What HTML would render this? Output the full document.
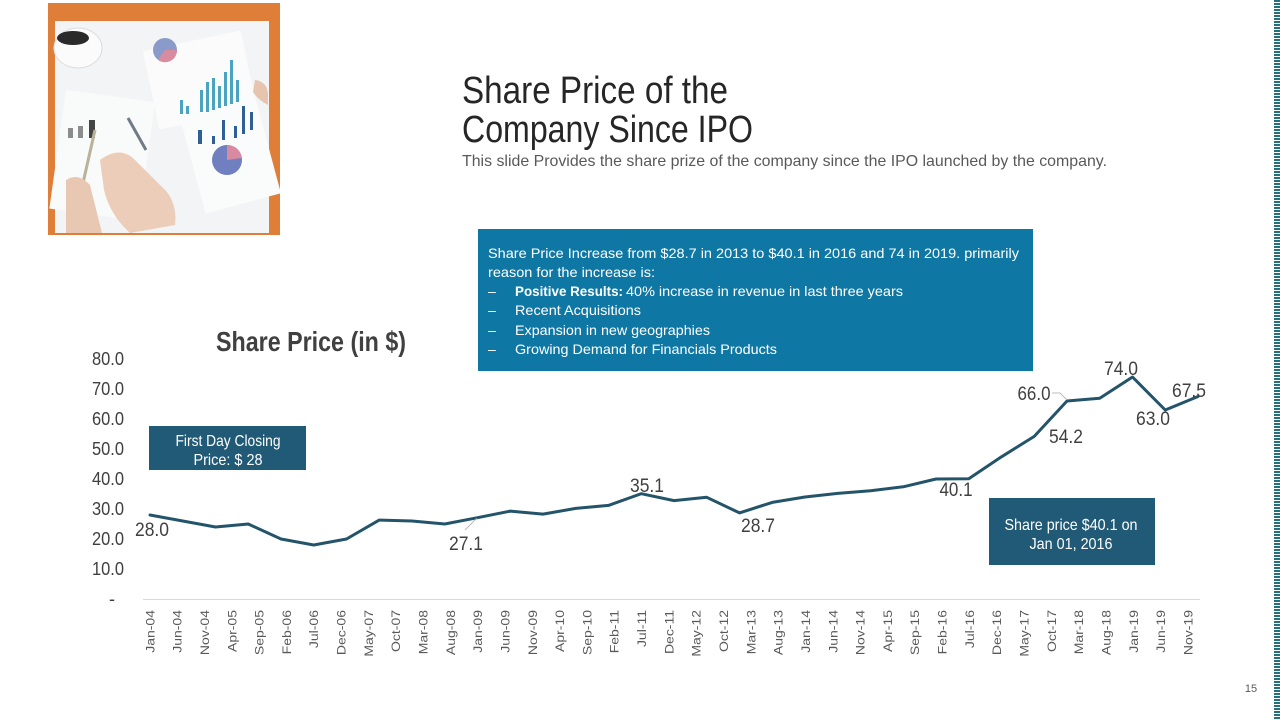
<!DOCTYPE html>
<html>
<head>
<meta charset="utf-8">
<style>
  html,body{margin:0;padding:0;background:#fff;}
  body{width:1280px;height:720px;overflow:hidden;}
  svg{display:block;}
  text{font-family:"Liberation Sans", Arial, sans-serif;}
</style>
</head>
<body>
<svg width="1280" height="720" viewBox="0 0 1280 720" xmlns="http://www.w3.org/2000/svg">
  <defs>
    <pattern id="dots" width="6" height="3" patternUnits="userSpaceOnUse">
      <rect x="0" y="0" width="6" height="2" fill="#23707f"/>
    </pattern>
  </defs>
  <rect width="1280" height="720" fill="#ffffff"/>

  <!-- right dotted stripe -->
  <rect x="1274" y="0" width="6" height="720" fill="url(#dots)"/>

  <!-- photo frame -->
  <rect x="48" y="3" width="232" height="232" fill="#df7e39"/>
  <rect x="55" y="21" width="214" height="212" fill="#f3f4f5"/>
  <!-- photo details -->
  <rect x="150" y="40" width="100" height="80" fill="#fbfbfc" transform="rotate(-12 200 80)"/>
  <rect x="190" y="95" width="78" height="110" fill="#fafbfb" transform="rotate(-15 230 150)"/>
  <rect x="58" y="95" width="90" height="120" fill="#f9fafa" transform="rotate(8 100 150)"/>
  <ellipse cx="78" cy="48" rx="24" ry="20" fill="#fbfbfb" stroke="#dcdcdc"/>
  <ellipse cx="73" cy="38" rx="16" ry="7" fill="#2a2a2a"/>
  <circle cx="165" cy="50" r="12" fill="#8a9bc9"/>
  <path d="M165 50 L177 50 A12 12 0 0 1 158 60 Z" fill="#d98ca0"/>
  <g fill="#4aa3c1">
    <rect x="180" y="100" width="3" height="14"/>
    <rect x="186" y="106" width="3" height="8"/>
    <rect x="200" y="90" width="3" height="22"/>
    <rect x="206" y="82" width="3" height="30"/>
    <rect x="212" y="78" width="3" height="32"/>
    <rect x="218" y="86" width="3" height="22"/>
    <rect x="224" y="72" width="3" height="34"/>
    <rect x="230" y="60" width="3" height="44"/>
    <rect x="236" y="80" width="3" height="22"/>
  </g>
  <g fill="#2e5f96">
    <rect x="198" y="130" width="4" height="14"/>
    <rect x="212" y="136" width="3" height="8"/>
    <rect x="222" y="120" width="3" height="20"/>
    <rect x="234" y="126" width="3" height="12"/>
    <rect x="242" y="106" width="3" height="28"/>
    <rect x="250" y="112" width="3" height="18"/>
  </g>
  <circle cx="227" cy="160" r="15" fill="#6f7fbf"/>
  <path d="M227 160 L227 145 A15 15 0 0 1 242 158 Z" fill="#d88aa0"/>
  <g fill="#8c8c8c">
    <rect x="68" y="128" width="5" height="10"/>
    <rect x="78" y="126" width="5" height="12"/>
    <rect x="89" y="120" width="6" height="18" fill="#444"/>
  </g>
  <line x1="95" y1="130" x2="78" y2="205" stroke="#b9b39a" stroke-width="3"/>
  <line x1="128" y1="118" x2="146" y2="150" stroke="#6f7b86" stroke-width="3"/>
  <path d="M100 160 Q120 145 135 160 L160 185 Q178 200 175 225 L130 233 Q110 215 104 190 Z" fill="#ebcdb9"/>
  <path d="M66 180 Q78 172 90 185 L102 233 L66 233 Z" fill="#e9c8b3"/>
  <path d="M255 80 Q268 82 268 95 L268 105 Q258 100 253 92 Z" fill="#e6c4ae"/>

  <!-- Title -->
  <text x="462" y="103" font-size="38" fill="#262626" textLength="266" lengthAdjust="spacingAndGlyphs">Share Price of the</text>
  <text x="462" y="142" font-size="38" fill="#262626" textLength="291" lengthAdjust="spacingAndGlyphs">Company Since IPO</text>
  <text x="462" y="166" font-size="16" fill="#595959" textLength="645" lengthAdjust="spacingAndGlyphs">This slide Provides the share prize of the company since the IPO launched by the company.</text>

  <!-- Blue info box -->
  <rect x="478" y="229" width="555" height="142" fill="#0f77a4"/>
  <g fill="#ffffff" font-size="14">
    <text x="488" y="258" textLength="531" lengthAdjust="spacingAndGlyphs">Share Price Increase from $28.7 in 2013 to $40.1 in 2016 and 74 in 2019. primarily</text>
    <text x="488" y="277" textLength="167" lengthAdjust="spacingAndGlyphs">reason for the increase is:</text>
    <text x="488" y="296">–</text>
    <text x="515" y="296" font-weight="bold" textLength="108" lengthAdjust="spacingAndGlyphs">Positive Results:</text>
    <text x="626" y="296" textLength="277" lengthAdjust="spacingAndGlyphs">40% increase in revenue  in last three years</text>
    <text x="488" y="315">–</text>
    <text x="515" y="315" textLength="126" lengthAdjust="spacingAndGlyphs">Recent Acquisitions</text>
    <text x="488" y="335">–</text>
    <text x="515" y="335" textLength="195" lengthAdjust="spacingAndGlyphs">Expansion in new geographies</text>
    <text x="488" y="354">–</text>
    <text x="515" y="354" textLength="262" lengthAdjust="spacingAndGlyphs">Growing Demand  for Financials Products</text>
  </g>

  <!-- Chart title -->
  <text x="216" y="351" font-size="28" font-weight="bold" fill="#404040" textLength="190" lengthAdjust="spacingAndGlyphs">Share Price (in $)</text>

  <!-- Y axis tick labels -->
  <g font-size="18.5" fill="#404040" text-anchor="end">
    <text x="124" y="365" textLength="32" lengthAdjust="spacingAndGlyphs">80.0</text>
    <text x="124" y="395" textLength="32" lengthAdjust="spacingAndGlyphs">70.0</text>
    <text x="124" y="425" textLength="32" lengthAdjust="spacingAndGlyphs">60.0</text>
    <text x="124" y="455" textLength="32" lengthAdjust="spacingAndGlyphs">50.0</text>
    <text x="124" y="485" textLength="32" lengthAdjust="spacingAndGlyphs">40.0</text>
    <text x="124" y="515" textLength="32" lengthAdjust="spacingAndGlyphs">30.0</text>
    <text x="124" y="545" textLength="32" lengthAdjust="spacingAndGlyphs">20.0</text>
    <text x="124" y="575" textLength="32" lengthAdjust="spacingAndGlyphs">10.0</text>
  </g>
  <text x="112" y="605" font-size="18" fill="#404040" text-anchor="middle">-</text>

  <!-- X axis line -->
  <line x1="143" y1="599.5" x2="1200" y2="599.5" stroke="#d9d9d9" stroke-width="1"/>

  <!-- X labels -->
  <g font-size="14" fill="#595959" text-anchor="end">
    <text transform="translate(154.3,610) scale(0.87,1) rotate(-90)">Jan-04</text>
    <text transform="translate(181.6,610) scale(0.87,1) rotate(-90)">Jun-04</text>
    <text transform="translate(208.9,610) scale(0.87,1) rotate(-90)">Nov-04</text>
    <text transform="translate(236.3,610) scale(0.87,1) rotate(-90)">Apr-05</text>
    <text transform="translate(263.6,610) scale(0.87,1) rotate(-90)">Sep-05</text>
    <text transform="translate(290.9,610) scale(0.87,1) rotate(-90)">Feb-06</text>
    <text transform="translate(318.2,610) scale(0.87,1) rotate(-90)">Jul-06</text>
    <text transform="translate(345.5,610) scale(0.87,1) rotate(-90)">Dec-06</text>
    <text transform="translate(372.9,610) scale(0.87,1) rotate(-90)">May-07</text>
    <text transform="translate(400.2,610) scale(0.87,1) rotate(-90)">Oct-07</text>
    <text transform="translate(427.5,610) scale(0.87,1) rotate(-90)">Mar-08</text>
    <text transform="translate(454.8,610) scale(0.87,1) rotate(-90)">Aug-08</text>
    <text transform="translate(482.1,610) scale(0.87,1) rotate(-90)">Jan-09</text>
    <text transform="translate(509.5,610) scale(0.87,1) rotate(-90)">Jun-09</text>
    <text transform="translate(536.8,610) scale(0.87,1) rotate(-90)">Nov-09</text>
    <text transform="translate(564.1,610) scale(0.87,1) rotate(-90)">Apr-10</text>
    <text transform="translate(591.4,610) scale(0.87,1) rotate(-90)">Sep-10</text>
    <text transform="translate(618.7,610) scale(0.87,1) rotate(-90)">Feb-11</text>
    <text transform="translate(646.1,610) scale(0.87,1) rotate(-90)">Jul-11</text>
    <text transform="translate(673.4,610) scale(0.87,1) rotate(-90)">Dec-11</text>
    <text transform="translate(700.7,610) scale(0.87,1) rotate(-90)">May-12</text>
    <text transform="translate(728.0,610) scale(0.87,1) rotate(-90)">Oct-12</text>
    <text transform="translate(755.3,610) scale(0.87,1) rotate(-90)">Mar-13</text>
    <text transform="translate(782.6,610) scale(0.87,1) rotate(-90)">Aug-13</text>
    <text transform="translate(810.0,610) scale(0.87,1) rotate(-90)">Jan-14</text>
    <text transform="translate(837.3,610) scale(0.87,1) rotate(-90)">Jun-14</text>
    <text transform="translate(864.6,610) scale(0.87,1) rotate(-90)">Nov-14</text>
    <text transform="translate(891.9,610) scale(0.87,1) rotate(-90)">Apr-15</text>
    <text transform="translate(919.2,610) scale(0.87,1) rotate(-90)">Sep-15</text>
    <text transform="translate(946.6,610) scale(0.87,1) rotate(-90)">Feb-16</text>
    <text transform="translate(973.9,610) scale(0.87,1) rotate(-90)">Jul-16</text>
    <text transform="translate(1001.2,610) scale(0.87,1) rotate(-90)">Dec-16</text>
    <text transform="translate(1028.5,610) scale(0.87,1) rotate(-90)">May-17</text>
    <text transform="translate(1055.8,610) scale(0.87,1) rotate(-90)">Oct-17</text>
    <text transform="translate(1083.2,610) scale(0.87,1) rotate(-90)">Mar-18</text>
    <text transform="translate(1110.5,610) scale(0.87,1) rotate(-90)">Aug-18</text>
    <text transform="translate(1137.8,610) scale(0.87,1) rotate(-90)">Jan-19</text>
    <text transform="translate(1165.1,610) scale(0.87,1) rotate(-90)">Jun-19</text>
    <text transform="translate(1192.4,610) scale(0.87,1) rotate(-90)">Nov-19</text>
  </g>

  <!-- Data line -->
  <polyline fill="none" stroke="#24546a" stroke-width="3" stroke-linejoin="round" stroke-linecap="round"
    points="150,515 182.75,521 215.5,527 248.25,524 281,539 313.75,545 346.5,539 379.25,520.1 412,521 444.75,524 477.5,517.7 510.25,511.1 543,514.1 575.75,508.4 608.5,505.4 641.25,493.7 674,500.6 706.75,497.3 739.5,512.9 772.25,502.4 805,497 837.75,493.4 870.5,490.7 903.25,486.8 936,479 968.75,478.7 1001.5,456.8 1034.25,436.4 1067,401 1099.75,398.3 1132.5,377 1165.25,410 1198,396.5"/>

  <!-- leader lines -->
  <polyline fill="none" stroke="#a6a6a6" stroke-width="0.8" points="465,530 477,518"/>
  <polyline fill="none" stroke="#a6a6a6" stroke-width="0.8" points="1052,393 1060,393 1067,400"/>

  <!-- Data labels -->
  <g font-size="19" fill="#404040" text-anchor="middle">
    <text x="152" y="536" textLength="34" lengthAdjust="spacingAndGlyphs">28.0</text>
    <text x="466" y="550" textLength="34" lengthAdjust="spacingAndGlyphs">27.1</text>
    <text x="647" y="492" textLength="34" lengthAdjust="spacingAndGlyphs">35.1</text>
    <text x="758" y="532" textLength="34" lengthAdjust="spacingAndGlyphs">28.7</text>
    <text x="956" y="496" textLength="33" lengthAdjust="spacingAndGlyphs">40.1</text>
    <text x="1066" y="443" textLength="34" lengthAdjust="spacingAndGlyphs">54.2</text>
    <text x="1034" y="400" textLength="33" lengthAdjust="spacingAndGlyphs">66.0</text>
    <text x="1121" y="375" textLength="34" lengthAdjust="spacingAndGlyphs">74.0</text>
    <text x="1153" y="425" textLength="34" lengthAdjust="spacingAndGlyphs">63.0</text>
    <text x="1189" y="397" textLength="34" lengthAdjust="spacingAndGlyphs">67.5</text>
  </g>

  <!-- First day box -->
  <rect x="149" y="426" width="157" height="44" fill="#215a76"/>
  <g fill="#ffffff" font-size="16" text-anchor="middle">
    <text x="228" y="446" textLength="105" lengthAdjust="spacingAndGlyphs">First Day Closing</text>
    <text x="228" y="465" textLength="69" lengthAdjust="spacingAndGlyphs">Price: $ 28</text>
  </g>

  <!-- Share price box -->
  <rect x="989" y="498" width="166" height="67" fill="#215a76"/>
  <g fill="#ffffff" font-size="16" text-anchor="middle">
    <text x="1071" y="530" textLength="133" lengthAdjust="spacingAndGlyphs">Share price $40.1 on</text>
    <text x="1071" y="549" textLength="83" lengthAdjust="spacingAndGlyphs">Jan 01, 2016</text>
  </g>

  <!-- page number -->
  <text x="1251" y="692" font-size="11" fill="#595959" text-anchor="middle">15</text>
</svg>
</body>
</html>
